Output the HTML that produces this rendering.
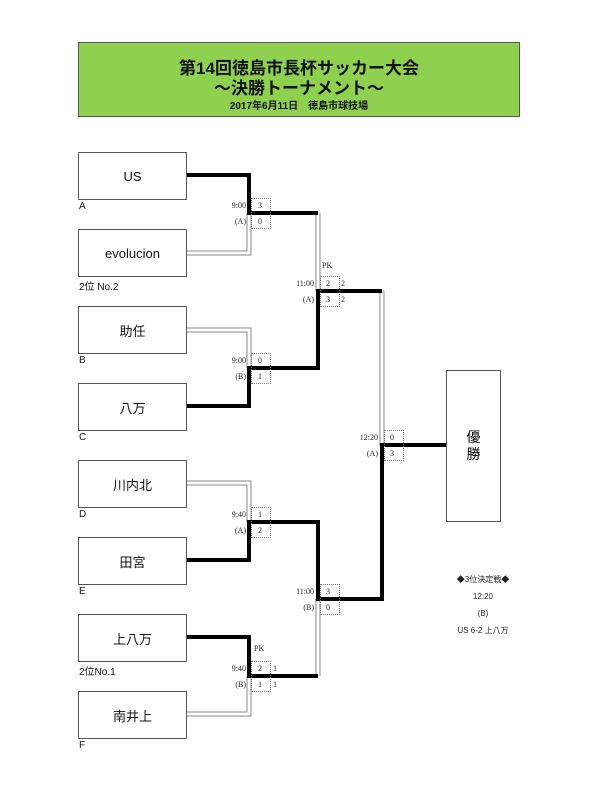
<!DOCTYPE html>
<html><head><meta charset="utf-8"><style>
body{margin:0;width:600px;height:790px;background:#fff;position:relative;overflow:hidden;font-family:"Liberation Sans","Noto Sans CJK JP",sans-serif;}
.a{position:absolute;}
.team{position:absolute;left:78px;width:107px;height:46px;border:1px solid #555;background:#fff;display:flex;align-items:center;justify-content:center;font-size:13px;color:#111;}
.lbl{position:absolute;left:79px;font-size:10px;color:#111;}
.s{position:absolute;font-family:"Liberation Serif",serif;font-size:8px;color:#222;}
.box{position:absolute;width:18px;height:29px;border:1px dotted #777;}
</style></head><body>
<div class="a" style="left:78px;top:42px;width:440px;height:73px;background:#8fd04f;border:1px solid #555;text-align:center;font-weight:bold;color:#111;">
<div style="font-size:17px;margin-top:15px;line-height:21px;">第14回徳島市長杯サッカー大会</div>
<div style="font-size:17px;line-height:20px;">～決勝トーナメント～</div>
<div style="font-size:10px;line-height:16px;">2017年6月11日　徳島市球技場</div>
</div>

<svg class="a" style="left:0;top:0" width="600" height="790">
<g fill="none" stroke-linejoin="miter">
<g stroke="#888" stroke-width="5">
<polyline points="186,253 249,253 249,213"/>
<polyline points="186,330 249,330 249,368"/>
<polyline points="186,483 249,483 249,522"/>
<polyline points="186,714 249,714 249,676"/>
<polyline points="318,213 318,291"/>
<polyline points="318,676 318,599"/>
<polyline points="382,291 382,445"/>
</g>
<g stroke="#fff" stroke-width="3">
<polyline points="186,253 249,253 249,213"/>
<polyline points="186,330 249,330 249,368"/>
<polyline points="186,483 249,483 249,522"/>
<polyline points="186,714 249,714 249,676"/>
<polyline points="318,213 318,291"/>
<polyline points="318,676 318,599"/>
<polyline points="382,291 382,445"/>
</g>
<g stroke="#000" stroke-width="4">
<polyline points="186,175 249,175 249,213 318,213"/>
<polyline points="186,406 249,406 249,368 318,368 318,291 382,291"/>
<polyline points="186,560 249,560 249,522 318,522 318,599 382,599 382,445 446,445"/>
<polyline points="186,637 249,637 249,676 318,676"/>
</g>
</g>
</svg>

<div class="team" style="top:152px">US</div><div class="lbl" style="top:201px">A</div>
<div class="team" style="top:229px">evolucion</div><div class="lbl" style="top:278px">2位 No.2</div>
<div class="team" style="top:306px">助任</div><div class="lbl" style="top:355px">B</div>
<div class="team" style="top:383px">八万</div><div class="lbl" style="top:432px">C</div>
<div class="team" style="top:460px">川内北</div><div class="lbl" style="top:509px">D</div>
<div class="team" style="top:537px">田宮</div><div class="lbl" style="top:586px">E</div>
<div class="team" style="top:614px">上八万</div><div class="lbl" style="top:663px">2位No.1</div>
<div class="team" style="top:691px">南井上</div><div class="lbl" style="top:740px">F</div>

<div class="a" style="left:446px;top:370px;width:53px;height:150px;border:1px solid #555;background:#fff;font-size:14px;text-align:center;display:flex;flex-direction:column;justify-content:center;line-height:17px;">優<br>勝</div>

<div class="box" style="left:251px;top:198px"></div>
<div class="s" style="left:210px;top:201px;width:36px;text-align:right">9:00</div>
<div class="s" style="left:210px;top:217px;width:36px;text-align:right">(A)</div>
<div class="s" style="left:258px;top:201px">3</div><div class="s" style="left:258px;top:217px">0</div>
<div class="box" style="left:251px;top:353px"></div>
<div class="s" style="left:210px;top:356px;width:36px;text-align:right">9:00</div>
<div class="s" style="left:210px;top:372px;width:36px;text-align:right">(B)</div>
<div class="s" style="left:258px;top:356px">0</div><div class="s" style="left:258px;top:372px">1</div>
<div class="box" style="left:251px;top:507px"></div>
<div class="s" style="left:210px;top:510px;width:36px;text-align:right">9:40</div>
<div class="s" style="left:210px;top:526px;width:36px;text-align:right">(A)</div>
<div class="s" style="left:258px;top:510px">1</div><div class="s" style="left:258px;top:526px">2</div>
<div class="s" style="left:254px;top:644px">PK</div>
<div class="box" style="left:251px;top:661px"></div>
<div class="s" style="left:210px;top:664px;width:36px;text-align:right">9:40</div>
<div class="s" style="left:210px;top:680px;width:36px;text-align:right">(B)</div>
<div class="s" style="left:258px;top:664px">2</div><div class="s" style="left:258px;top:680px">1</div>
<div class="s" style="left:273px;top:664px">1</div><div class="s" style="left:273px;top:680px">1</div>
<div class="s" style="left:322px;top:261px">PK</div>
<div class="box" style="left:320px;top:276px"></div>
<div class="s" style="left:278px;top:279px;width:36px;text-align:right">11:00</div>
<div class="s" style="left:278px;top:295px;width:36px;text-align:right">(A)</div>
<div class="s" style="left:326px;top:279px">2</div><div class="s" style="left:326px;top:295px">3</div>
<div class="s" style="left:341px;top:279px">2</div><div class="s" style="left:341px;top:295px">2</div>
<div class="box" style="left:320px;top:584px"></div>
<div class="s" style="left:278px;top:587px;width:36px;text-align:right">11:00</div>
<div class="s" style="left:278px;top:603px;width:36px;text-align:right">(B)</div>
<div class="s" style="left:326px;top:587px">3</div><div class="s" style="left:326px;top:603px">0</div>
<div class="box" style="left:384px;top:430px"></div>
<div class="s" style="left:342px;top:433px;width:36px;text-align:right">12:20</div>
<div class="s" style="left:342px;top:449px;width:36px;text-align:right">(A)</div>
<div class="s" style="left:390px;top:433px">0</div><div class="s" style="left:390px;top:449px">3</div>

<div class="a" style="left:423px;top:571px;width:120px;text-align:center;font-size:8px;line-height:17px;color:#222;">◆3位決定戦◆<br>12:20<br>(B)<br>US 6-2 上八万</div>
</body></html>
